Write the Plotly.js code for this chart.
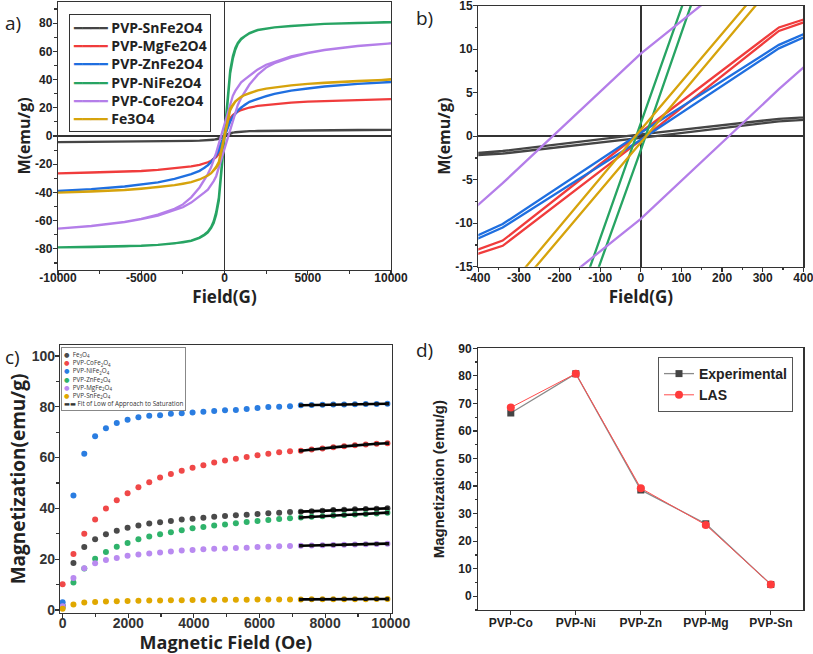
<!DOCTYPE html>
<html><head><meta charset="utf-8">
<script src="https://cdn.plot.ly/plotly-3.0.1.min.js"></script>
<style>html,body{margin:0;padding:0;background:#fff}#chart{width:813px;height:654px}</style>
</head><body><div id="chart"></div>
<script>
// ---------- Panels a & b : hysteresis loops ----------
const loopNames = ['PVP-SnFe2O4','PVP-MgFe2O4','PVP-ZnFe2O4','PVP-NiFe2O4','PVP-CoFe2O4','Fe3O4'];
const loopColors = ['#454545','#f03c3c','#1f6fe0','#27a463','#b47ee9','#d6a30c'];
const fieldDown = [10000,8000,6000,5000,4000,3000,2500,2000,1500,1200,1000,800,650,500,340,0,-340,-500,-650,-800,-1000,-1200,-1500,-2000,-2500,-3000,-4000,-5000,-6000,-8000,-10000];
const fieldUp = [-10000,-8000,-6000,-5000,-4000,-3000,-2500,-2000,-1500,-1200,-1000,-800,-650,-500,-340,0,340,500,650,800,1000,1200,1500,2000,2500,3000,4000,5000,6000,8000,10000];

const snDown = [4.4,4.3,4.15,4.05,3.95,3.75,3.65,3.55,3.4,3.25,3.15,3.0,2.85,2.45,2.0,0.2,-1.7,-2.3,-2.7,-2.9,-3.05,-3.15,-3.3,-3.45,-3.55,-3.65,-3.85,-3.95,-4.05,-4.2,-4.3];
const snUp = [-4.3,-4.2,-4.05,-3.95,-3.85,-3.65,-3.55,-3.45,-3.3,-3.15,-3.05,-2.9,-2.75,-2.45,-2.0,-0.2,1.7,2.3,2.75,2.95,3.15,3.25,3.4,3.55,3.65,3.75,3.95,4.05,4.15,4.3,4.4];
const mgDown = [26.1,25.5,24.8,24.4,23.6,22.6,22.0,21.3,20.2,19.3,18.4,17.4,16.3,14.9,12.5,0.45,-12.0,-14.7,-16.3,-17.5,-18.6,-19.5,-20.5,-21.6,-22.3,-23.0,-24.0,-24.8,-25.3,-26.0,-26.5];
const mgUp = [-26.5,-26.0,-25.3,-24.8,-24.0,-23.0,-22.3,-21.6,-20.5,-19.5,-18.6,-17.6,-16.5,-15.0,-12.6,-0.45,12.1,14.7,16.1,17.3,18.4,19.3,20.2,21.3,22.0,22.6,23.6,24.4,24.8,25.5,26.1];
const znDown = [38.3,37.0,35.1,33.7,32.2,29.8,28.3,26.4,24.2,22.0,20.2,18.1,16.2,13.7,10.5,0.4,-10.1,-13.5,-16.2,-18.3,-20.6,-22.5,-24.7,-27.0,-28.9,-30.4,-32.8,-34.4,-35.8,-37.7,-39.0];
const znUp = [-39.0,-37.7,-35.8,-34.4,-32.8,-30.4,-28.9,-27.0,-24.8,-22.6,-20.8,-18.5,-16.5,-13.8,-10.5,-0.4,10.1,13.4,16.0,17.9,20.0,22.0,24.2,26.4,28.3,29.8,32.2,33.7,35.1,37.0,38.3];
const niDown = [80.6,80.2,79.5,78.8,78.0,77.0,76.2,75.2,73.0,70.8,69.0,66.0,62.5,56.5,46.5,1.6,-43.5,-54.0,-60.5,-64.5,-67.8,-69.8,-72.0,-74.2,-75.4,-76.2,-77.2,-77.8,-78.2,-78.7,-79.0];
const niUp = [-79.0,-78.7,-78.2,-77.8,-77.2,-76.2,-75.4,-74.3,-72.2,-70.2,-68.3,-65.2,-61.8,-55.8,-45.8,-1.6,44.2,54.8,61.2,65.3,68.5,70.5,72.8,75.0,76.1,77.0,78.0,78.8,79.5,80.2,80.6];
const coDown = [65.6,63.8,61.0,59.0,56.4,52.8,50.5,47.2,43.0,40.0,38.0,34.8,32.0,28.5,22.2,9.5,-5.4,-12.0,-17.5,-22.0,-27.0,-31.0,-36.5,-43.5,-48.5,-51.6,-55.7,-58.7,-60.9,-63.7,-65.6];
const coUp = [-65.6,-63.8,-61.0,-59.0,-56.4,-52.8,-50.5,-47.2,-43.0,-40.0,-38.0,-34.8,-32.0,-28.5,-22.2,-9.5,5.4,12.0,17.5,22.0,27.0,31.0,36.5,43.5,48.5,51.6,55.7,58.7,60.9,63.7,65.6];
const feDown = [40.0,39.0,37.9,37.0,35.9,34.5,33.6,32.4,30.5,29.0,27.8,26.2,24.6,22.3,19.5,0.73,-18.2,-21.8,-24.5,-26.3,-28.0,-29.3,-30.8,-32.7,-33.9,-34.8,-36.3,-37.4,-38.3,-39.4,-40.2];
const feUp = [-40.2,-39.4,-38.3,-37.4,-36.3,-34.8,-33.9,-32.7,-30.8,-29.3,-28.0,-26.4,-24.8,-22.6,-19.5,-0.73,18.2,21.6,24.3,26.0,27.8,29.0,30.5,32.4,33.6,34.5,35.9,37.0,37.9,39.0,40.0];

// tick labels (hyphen minus as in the original)
const aXTicks = [-10000,-5000,0,5000,10000];
const aXLabels = ['-10000','-5000','0','5000','10000'];
const aYTicks = [-80,-60,-40,-20,0,20,40,60,80];
const aYLabels = ['-80','-60','-40','-20','0','20','40','60','80'];
const bXTicks = [-400,-300,-200,-100,0,100,200,300,400];
const bXLabels = ['-400','-300','-200','-100','0','100','200','300','400'];
const bYTicks = [-15,-10,-5,0,5,10,15];
const bYLabels = ['-15','-10','-5','0','5','10','15'];

// ---------- Panel c : initial magnetization + LAS fits ----------
const cNames = ['Fe<sub>3</sub>O<sub>4</sub>','PVP-CoFe<sub>2</sub>O<sub>4</sub>','PVP-NiFe<sub>2</sub>O<sub>4</sub>','PVP-ZnFe<sub>2</sub>O<sub>4</sub>','PVP-MgFe<sub>2</sub>O<sub>4</sub>','PVP-SnFe<sub>2</sub>O<sub>4</sub>'];
const cColors = ['#4a4a4a','#f04848','#2a7de1','#2fb36b','#b98af0','#e0a800'];
const fitName = 'Fit of Low of Approach to Saturation';
const cField = [0,330,660,990,1320,1650,1980,2310,2640,2970,3300,3630,3960,4290,4620,4950,5280,5610,5940,6270,6600,6930,7260,7590,7920,8250,8580,8910,9240,9570,9900];
const cFe = [1.8,18.5,24.8,27.8,29.8,31.2,32.4,33.2,34.0,34.5,35.0,35.6,35.9,36.3,36.7,37.0,37.3,37.5,37.8,38.1,38.3,38.6,38.7,38.9,39.1,39.3,39.4,39.6,39.7,39.85,40.0];
const cCo = [10.1,22.0,30.0,35.6,39.9,43.2,45.9,48.3,50.3,52.1,53.5,54.8,56.0,57.0,58.0,58.8,59.5,60.2,60.9,61.5,62.1,62.5,62.7,63.2,63.6,64.0,64.4,64.8,65.1,65.4,65.6];
const cNi = [3.0,45.1,61.5,68.4,71.5,73.6,74.9,75.9,76.4,76.6,77.2,77.4,77.7,78.0,78.3,78.6,78.7,79.1,79.5,79.9,80.0,80.2,80.6,80.7,80.8,80.85,80.9,81.0,81.05,81.1,81.2];
const cZn = [1.0,10.8,16.3,20.2,22.8,24.9,26.4,27.8,28.9,29.8,30.6,31.4,32.2,32.7,33.2,33.6,34.1,34.6,35.0,35.4,35.8,36.1,36.4,36.7,36.9,37.2,37.4,37.6,37.8,38.0,38.3];
const cMg = [1.5,12.6,16.4,18.4,19.7,20.5,21.3,21.8,22.2,22.6,23.0,23.4,23.6,23.9,24.1,24.2,24.4,24.5,24.8,24.9,25.1,25.2,25.3,25.4,25.5,25.6,25.7,25.8,25.9,26.0,26.1];
const cSn = [0.5,2.1,2.9,3.1,3.3,3.4,3.5,3.6,3.7,3.7,3.8,3.8,3.9,3.9,4.0,4.0,4.0,4.05,4.1,4.1,4.1,4.15,4.15,4.2,4.2,4.2,4.2,4.25,4.25,4.3,4.3];
const fitField = [7260,7590,7920,8250,8580,8910,9240,9570,9900];
const fitFe = [38.7,38.9,39.1,39.3,39.4,39.6,39.7,39.85,40.0];
const fitCo = [62.7,63.2,63.6,64.0,64.4,64.8,65.1,65.4,65.6];
const fitNi = [80.6,80.7,80.8,80.85,80.9,81.0,81.05,81.1,81.2];
const fitZn = [36.4,36.7,36.9,37.2,37.4,37.6,37.8,38.0,38.3];
const fitMg = [25.3,25.4,25.5,25.6,25.7,25.8,25.9,26.0,26.1];
const fitSn = [4.15,4.15,4.2,4.2,4.2,4.2,4.25,4.25,4.3];

// ---------- Panel d : saturation magnetization ----------
const dCategories = ['PVP-Co','PVP-Ni','PVP-Zn','PVP-Mg','PVP-Sn'];
const dExperimental = [66.5,80.8,38.6,26.3,4.3];
const dLAS = [68.5,80.8,39.2,25.9,4.3];

// ---------- build traces ----------
const downs = [snDown,mgDown,znDown,niDown,coDown,feDown];
const ups = [snUp,mgUp,znUp,niUp,coUp,feUp];
const traces = [];
['x','x2'].forEach((xa,k)=>{
  loopNames.forEach((n,i)=>{
    traces.push({x: fieldDown.concat(fieldUp), y: downs[i].concat(ups[i]), mode:'lines', name:n, showlegend:false,
      line:{color:loopColors[i], width:2.3}, xaxis:xa, yaxis:(k===0?'y':'y2')});
  });
});
const cSeries = [cFe,cCo,cNi,cZn,cMg,cSn];
const fits = [fitFe,fitCo,fitNi,fitZn,fitMg,fitSn];
cSeries.forEach((s,i)=>{
  traces.push({x:cField, y:s, mode:'markers', name:cNames[i], showlegend:false,
    marker:{size:6, color:cColors[i]}, xaxis:'x3', yaxis:'y3'});
});
fits.forEach((f,i)=>{
  traces.push({x:fitField, y:f, mode:'lines+markers', name:fitName, showlegend:false,
    line:{color:'#000', width:2.6}, marker:{size:3.5, color:'#111', symbol:'square'}, xaxis:'x3', yaxis:'y3'});
});
traces.push({x:dCategories, y:dExperimental, mode:'lines+markers', name:'Experimental',
  line:{color:'#8a8a8a', width:1.3}, marker:{symbol:'square', size:7, color:'#444'},
  xaxis:'x4', yaxis:'y4', legend:'legend'});
traces.push({x:dCategories, y:dLAS, mode:'lines+markers', name:'LAS',
  line:{color:'#ff4d4d', width:1}, marker:{symbol:'circle', size:8, color:'#ff3b3b'},
  xaxis:'x4', yaxis:'y4', legend:'legend'});

// ---------- layout ----------
const tickFontSmall = {family:'Liberation Sans, Arial, sans-serif', size:12, color:'#222', weight:'bold'};
const titleFont = (s)=>({family:'Open Sans, sans-serif', size:s, color:'#222', weight:'bold'});
function ax(extra){
  return Object.assign({showgrid:false, showline:true, mirror:true, linecolor:'#333', linewidth:1.2,
    ticks:'outside', ticklen:4, tickwidth:1.2, tickcolor:'#333', zeroline:false, tickfont:tickFontSmall,
    ticklabeloverflow:'allow'}, extra);
}
const minorT = (d)=>({dtick:d, ticklen:2.5, ticks:'outside', tickcolor:'#333'});
const W=813, H=654;
const px = (a,b)=>[a/W, b/W];
const py = (top,bottom)=>[1-bottom/H, 1-top/H];

const aLegendLines = loopNames.map((n,i)=>`<span style="color:${loopColors[i]}">━━━━</span> ${n}`);
const cLegendLines = cNames.map((n,i)=>`<span style="color:${cColors[i]}">●</span>  ${n}`);
cLegendLines.push(`<b>▬▬</b> ${fitName}`);

const zl = {zeroline:true, zerolinecolor:'#333', zerolinewidth:1.5};
const layout = {
  width:W, height:H, margin:{l:0,r:0,t:0,b:0}, paper_bgcolor:'#fff', plot_bgcolor:'#fff', showlegend:true,
  xaxis: ax(Object.assign({domain:px(58,391), anchor:'y', range:[-10000,10000], tickmode:'array', tickvals:aXTicks, ticktext:aXLabels,
    minor:minorT(2500), ticklabelstandoff:-8,
    title:{text:'Field(G)', font:titleFont(17), standoff:6}}, zl)),
  yaxis: ax(Object.assign({domain:py(2,270), anchor:'x', range:[-95,95], tickmode:'array', tickvals:aYTicks, ticktext:aYLabels,
    minor:minorT(10), ticklabelstandoff:-2,
    title:{text:'M(emu/g)', font:titleFont(16), standoff:0}}, zl)),
  xaxis2: ax(Object.assign({domain:px(478.3,803.3), anchor:'y2', range:[-400,400], tickmode:'array', tickvals:bXTicks, ticktext:bXLabels,
    minor:minorT(50), ticklabelstandoff:-4,
    title:{text:'Field(G)', font:titleFont(17), standoff:6}}, zl)),
  yaxis2: ax(Object.assign({domain:py(5.7,266.7), anchor:'x2', range:[-15,15], tickmode:'array', tickvals:bYTicks, ticktext:bYLabels,
    minor:minorT(2.5), ticklabelstandoff:-2,
    title:{text:'M(emu/g)', font:titleFont(16), standoff:0}}, zl)),
  xaxis3: ax({domain:px(60,391.7), anchor:'y3', range:[-80,10030], dtick:2000, tick0:0, tickformat:'d',
    minor:minorT(1000), ticklabelstandoff:-7,
    tickfont:{family:'Liberation Sans, Arial, sans-serif', size:14, color:'#333', weight:'bold'},
    title:{text:'Magnetic Field (Oe)', font:titleFont(18), standoff:2}}),
  yaxis3: ax({domain:py(345,613), anchor:'x3', range:[-1.2,104.3], dtick:20, tick0:0,
    minor:minorT(10), ticklabelstandoff:-3,
    tickfont:{family:'Liberation Sans, Arial, sans-serif', size:14, color:'#333', weight:'bold'},
    title:{text:'Magnetization(emu/g)', font:titleFont(19), standoff:1}}),
  xaxis4: ax({domain:px(478.3,803.3), anchor:'y4', type:'category', range:[-0.5,4.5], ticklabelstandoff:-3}),
  yaxis4: ax({domain:py(348.3,610), anchor:'x4', range:[-5,90], dtick:10, tick0:0,
    minor:minorT(5), ticklabelstandoff:-1,
    title:{text:'Magnetization (emu/g)', font:{family:'Liberation Sans, Arial, sans-serif', size:15, color:'#222', weight:'bold'}, standoff:10}}),
  legend:{x:658/W, y:1-357/H, xanchor:'left', yanchor:'top', bgcolor:'#fff', bordercolor:'#555', borderwidth:1,
    font:{family:'Liberation Sans, Arial, sans-serif', size:14, color:'#222', weight:'bold'}, tracegroupgap:0},
  annotations:[
    {text:'a)', xref:'paper', yref:'paper', x:3/W, y:1-8/H, xanchor:'left', yanchor:'top', showarrow:false, font:{family:'Open Sans, sans-serif', size:19, color:'#222'}},
    {text:'b)', xref:'paper', yref:'paper', x:414/W, y:1-3/H, xanchor:'left', yanchor:'top', showarrow:false, font:{family:'Open Sans, sans-serif', size:19, color:'#222'}},
    {text:'c)', xref:'paper', yref:'paper', x:3/W, y:1-342/H, xanchor:'left', yanchor:'top', showarrow:false, font:{family:'Open Sans, sans-serif', size:19, color:'#222'}},
    {text:'d)', xref:'paper', yref:'paper', x:414/W, y:1-335/H, xanchor:'left', yanchor:'top', showarrow:false, font:{family:'Open Sans, sans-serif', size:19, color:'#222'}},
    {text:aLegendLines.join('<br>'), xref:'paper', yref:'paper', x:69/W, y:1-14/H, xanchor:'left', yanchor:'top',
      align:'left', showarrow:false, bgcolor:'#fff', bordercolor:'#333', borderwidth:1, borderpad:3,
      font:{family:'Open Sans, DejaVu Sans, sans-serif', size:14, color:'#222', weight:'bold'}},
    {text:cLegendLines.join('<br>'), xref:'paper', yref:'paper', x:61/W, y:1-347/H, xanchor:'left', yanchor:'top',
      align:'left', showarrow:false, bgcolor:'#fff', bordercolor:'#888', borderwidth:1, borderpad:2,
      font:{family:'Open Sans, DejaVu Sans, sans-serif', size:6.3, color:'#333'}}
  ]
};
Plotly.newPlot('chart', traces, layout, {staticPlot:true});
</script></body></html>
